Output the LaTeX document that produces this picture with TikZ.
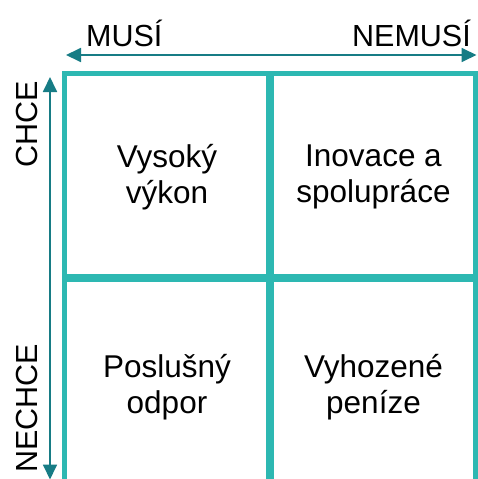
\documentclass[tikz,border=0pt]{standalone}
\usepackage{fontspec}
\setmainfont{Liberation Sans}
\usetikzlibrary{arrows.meta}
\definecolor{gridteal}{HTML}{2DB8B2}
\definecolor{axisteal}{HTML}{177C85}
\tikzset{
  gridline/.style={draw=gridteal, line width=4.5pt},
  midline/.style={draw=gridteal, line width=8.5pt},
  axis/.style={draw=axisteal, line width=1.8pt,
    {Triangle[length=15pt,width=14pt]}-{Triangle[length=15pt,width=14pt]}},
  lbl/.style={inner sep=0pt, font=\fontsize{30.5}{36}\selectfont},
  cell/.style={inner sep=0pt, align=center, font=\fontsize{31.5}{36}\selectfont}
}
\begin{document}
\begin{tikzpicture}[x=1pt,y=-1pt]
\useasboundingbox (0,0) rectangle (478,479);
\clip (0,0) rectangle (478,479);
\fill[white] (0,0) rectangle (478,479);

% 2x2 grid
\draw[gridline] (64.5,495) -- (64.5,73.5) -- (475.5,73.5) -- (475.5,495);
\draw[midline] (270,71.5) -- (270,495);
\draw[midline] (62.5,278) -- (477.5,278);

% axes
\coordinate (hl) at (66,55);
\coordinate (hr) at (476.5,55);
\coordinate (vt) at (50,77);
\coordinate (vb) at (50,479.5);
\draw[axis] (hl) -- (hr);
\draw[axis] (vt) -- (vb);

% axis labels
\node[lbl, anchor=base west] (musi) at (86,46.7) {MUSÍ};
\node[lbl, anchor=base east] (nemusi) at (471,46.7) {NEMUSÍ};
\node[lbl, anchor=base, rotate=90] (chce) at (37,124.5) {CHCE};
\node[lbl, anchor=base, rotate=90] (nechce) at (37,408.5) {NECHCE};

% quadrant texts
\node[cell] (q1) at (167,177) {Vysoký\\výkon};
\node[cell] (q2) at (373.5,177) {Inovace a\\spolupráce};
\node[cell] (q3) at (167,387.5) {Poslušný\\odpor};
\node[cell] (q4) at (373.5,387.5) {Vyhozené\\peníze};
\end{tikzpicture}
\end{document}
